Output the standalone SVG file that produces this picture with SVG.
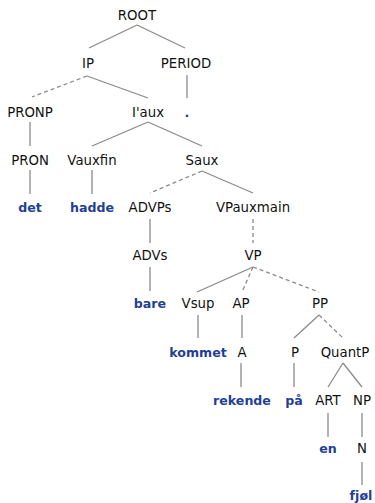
<svg xmlns="http://www.w3.org/2000/svg" width="375" height="503" viewBox="0 0 375 503">
<style>
.c{font-family:"DejaVu Sans","Liberation Sans",sans-serif;font-size:13.3px;fill:#111;text-anchor:middle}
.w{font-family:"DejaVu Sans","Liberation Sans",sans-serif;font-size:12.6px;font-weight:bold;fill:#1f3f97;text-anchor:middle}
.e line{stroke:#8a8a8a;stroke-width:1.3}
.e .d{stroke-dasharray:4 3}
</style>
<rect width="375" height="503" fill="#fff"/>
<g class="e" id="edges">
<line x1="137" y1="25" x2="89" y2="48"/>
<line x1="137" y1="25" x2="185" y2="48"/>
<line x1="187" y1="75" x2="187" y2="98"/>
<line class="d" x1="87" y1="76" x2="32" y2="97"/>
<line x1="87" y1="76" x2="148" y2="98"/>
<line x1="30" y1="122" x2="30" y2="146"/>
<line x1="148" y1="122" x2="92" y2="146"/>
<line x1="148" y1="122" x2="202" y2="146"/>
<line x1="30" y1="170" x2="30" y2="194"/>
<line x1="92" y1="170" x2="92" y2="194"/>
<line class="d" x1="202" y1="171" x2="150" y2="193"/>
<line x1="202" y1="171" x2="253" y2="193"/>
<line x1="150" y1="219" x2="150" y2="243"/>
<line class="d" x1="253" y1="219" x2="253" y2="243"/>
<line x1="150" y1="267" x2="150" y2="291"/>
<line x1="253" y1="267" x2="197" y2="292"/>
<line class="d" x1="253" y1="267" x2="242" y2="292"/>
<line class="d" x1="253" y1="267" x2="319" y2="292"/>
<line x1="198" y1="315" x2="198" y2="338"/>
<line x1="242" y1="315" x2="242" y2="338"/>
<line x1="319" y1="315" x2="294" y2="338"/>
<line class="d" x1="319" y1="315" x2="343" y2="338"/>
<line x1="241" y1="363" x2="241" y2="387"/>
<line x1="294" y1="363" x2="294" y2="387"/>
<line x1="343" y1="363" x2="328" y2="387"/>
<line x1="343" y1="363" x2="362" y2="387"/>
<line x1="328" y1="413" x2="328" y2="437"/>
<line x1="362" y1="413" x2="362" y2="437"/>
<line x1="362" y1="462" x2="362" y2="485"/>
</g>
<g id="n-root"><text class="c" x="137" y="20">ROOT</text></g>
<g id="n-ip"><text class="c" x="88" y="68">IP</text></g>
<g id="n-period"><text class="c" x="186" y="68">PERIOD</text></g>
<g id="n-pronp"><text class="c" x="30" y="117">PRONP</text></g>
<g id="n-iaux"><text class="c" x="148" y="117">I'aux</text></g>
<g id="n-dot"><text class="w" x="187" y="117">.</text></g>
<g id="n-pron"><text class="c" x="30" y="165">PRON</text></g>
<g id="n-vauxfin"><text class="c" x="92" y="165">Vauxfin</text></g>
<g id="n-saux"><text class="c" x="202" y="165">Saux</text></g>
<g id="n-det"><text class="w" x="30" y="212">det</text></g>
<g id="n-hadde"><text class="w" x="92" y="212">hadde</text></g>
<g id="n-advps"><text class="c" x="150" y="212">ADVPs</text></g>
<g id="n-vpauxmain"><text class="c" x="253" y="212">VPauxmain</text></g>
<g id="n-advs"><text class="c" x="150" y="260">ADVs</text></g>
<g id="n-vp"><text class="c" x="253" y="260">VP</text></g>
<g id="n-bare"><text class="w" x="150" y="308">bare</text></g>
<g id="n-vsup"><text class="c" x="198" y="308">Vsup</text></g>
<g id="n-ap"><text class="c" x="241" y="308">AP</text></g>
<g id="n-pp"><text class="c" x="320" y="308">PP</text></g>
<g id="n-kommet"><text class="w" x="198" y="357">kommet</text></g>
<g id="n-a"><text class="c" x="242" y="357">A</text></g>
<g id="n-p"><text class="c" x="295" y="357">P</text></g>
<g id="n-quantp"><text class="c" x="345" y="357">QuantP</text></g>
<g id="n-rekende"><text class="w" x="242" y="405">rekende</text></g>
<g id="n-pa"><text class="w" x="294" y="405">på</text></g>
<g id="n-art"><text class="c" x="328" y="405">ART</text></g>
<g id="n-np"><text class="c" x="362" y="405">NP</text></g>
<g id="n-en"><text class="w" x="328" y="453">en</text></g>
<g id="n-n"><text class="c" x="362" y="453">N</text></g>
<g id="n-fjol"><text class="w" x="361" y="500">fjøl</text></g>
</svg>
